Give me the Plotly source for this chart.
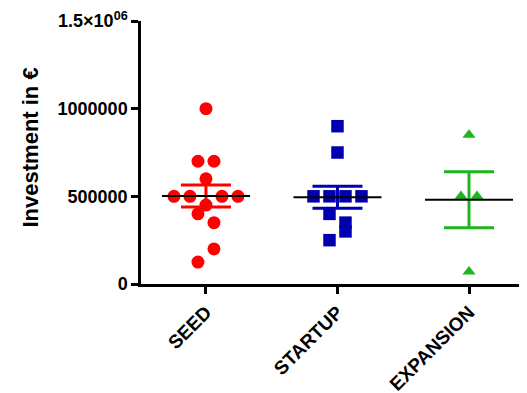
import numpy as np
import plotly.graph_objects as go

categories = ["SEED", "STARTUP", "EXPANSION"]
seed_values = [1000000, 700000, 700000, 600000, 500000, 500000, 500000, 500000,
               450000, 400000, 350000, 200000, 125000]
startup_values = [900000, 750000, 500000, 500000, 500000, 500000,
                  400000, 350000, 300000, 250000]
expansion_values = [850000, 500000, 500000, 70000]
series_values = [seed_values, startup_values, expansion_values]
y_tick_values = [0, 500000, 1000000, 1500000]
y_tick_labels = ["0", "500000", "1000000", "1.5×10<sup>06</sup>"]
y_title = "Investment in €"

colors = ["#ff0000", "#0000b0", "#1fb51f"]
symbols = ["circle", "square", "triangle-up"]
sizes = [13, 12.5, 11.5]

# page body has an 8px default margin, so the figure is offset by (8, 8)
W, H = 527, 393
ML, MR, MT, MB = 133, 8, 13, 117
XR = [-0.494, 2.441]
YR = [0, 1500000]
px_per_x = (W - ML - MR) / (XR[1] - XR[0])
px_per_y = (H - MT - MB) / (YR[1] - YR[0])
SPACING_PX = 16.0
ROW_PX = 16.0
MEAN_HALF_PX = 44.0


def swarm_offsets(values):
    """Simple row-based beeswarm: returns x offsets (axis units) per value."""
    order = np.argsort(values, kind="stable")
    vals = np.asarray(values, dtype=float)
    rows, cur = [], []
    for idx in order:
        if cur and (vals[idx] - vals[cur[0]]) * px_per_y >= ROW_PX:
            rows.append(cur)
            cur = []
        cur.append(idx)
    if cur:
        rows.append(cur)
    d = SPACING_PX / px_per_x
    offs = np.zeros(len(vals))
    for r, row in enumerate(rows):
        n = len(row)
        if n % 2 == 1:
            slots = [0]
            for k in range(1, n // 2 + 1):
                slots += [-k, k]
            for idx, s in zip(row, slots):
                offs[idx] = s * d
        else:
            slots = [(k - (n - 1) / 2) for k in range(n)]
            seq = row if r % 2 == 0 else row[::-1]
            for idx, s in zip(seq, slots):
                offs[idx] = s * d
    return offs


fig = go.Figure()
mean_half = MEAN_HALF_PX / px_per_x
for i, vals in enumerate(series_values):
    offs = swarm_offsets(vals)
    fig.add_trace(go.Scatter(
        x=i + offs, y=vals, mode="markers",
        marker=dict(symbol=symbols[i], size=sizes[i], color=colors[i],
                    line=dict(width=0)),
        showlegend=False, hoverinfo="y"))
for i, vals in enumerate(series_values):
    arr = np.asarray(vals, dtype=float)
    m = arr.mean()
    sem = arr.std(ddof=1) / np.sqrt(len(arr))
    fig.add_trace(go.Scatter(
        x=[i], y=[m], mode="markers",
        marker=dict(size=1, color="rgba(0,0,0,0)"),
        error_y=dict(type="data", array=[sem], color=colors[i],
                     thickness=3, width=25),
        showlegend=False, hoverinfo="skip"))
for i, vals in enumerate(series_values):
    m = float(np.mean(vals))
    fig.add_trace(go.Scatter(
        x=[i - mean_half, i + mean_half], y=[m, m], mode="lines",
        line=dict(color="black", width=2),
        showlegend=False, hoverinfo="skip"))

font_family = "Liberation Sans, Arial, sans-serif"
fig.update_layout(
    width=W, height=H, autosize=False,
    margin=dict(l=ML, r=MR, t=MT, b=MB, pad=0, autoexpand=False),
    paper_bgcolor="white", plot_bgcolor="white",
    font=dict(family=font_family, color="black"),
    xaxis=dict(range=XR, tickmode="array", tickvals=list(range(len(categories))),
               ticktext=categories, tickangle=-45, automargin=False,
               tickfont=dict(size=19, weight=700, color="black"),
               showgrid=False, zeroline=False, showline=True,
               linecolor="black", linewidth=2.5, ticks="outside",
               ticklen=7, tickwidth=2.5, tickcolor="black", fixedrange=True),
    yaxis=dict(range=YR, tickmode="array", tickvals=y_tick_values,
               ticktext=y_tick_labels, automargin=False,
               tickfont=dict(size=18, weight=700, color="black"),
               showgrid=False, zeroline=False, showline=True,
               linecolor="black", linewidth=2.5, ticks="outside",
               ticklen=7, tickwidth=2.5, tickcolor="black", fixedrange=True),
    annotations=[dict(text=y_title, xref="paper", yref="paper", x=0, y=0.5,
                      xanchor="center", yanchor="middle", xshift=-111, yshift=5,
                      textangle=-90, showarrow=False,
                      font=dict(size=22, weight=700, color="black",
                                family=font_family))],
)

fig.write_html("out.html")
